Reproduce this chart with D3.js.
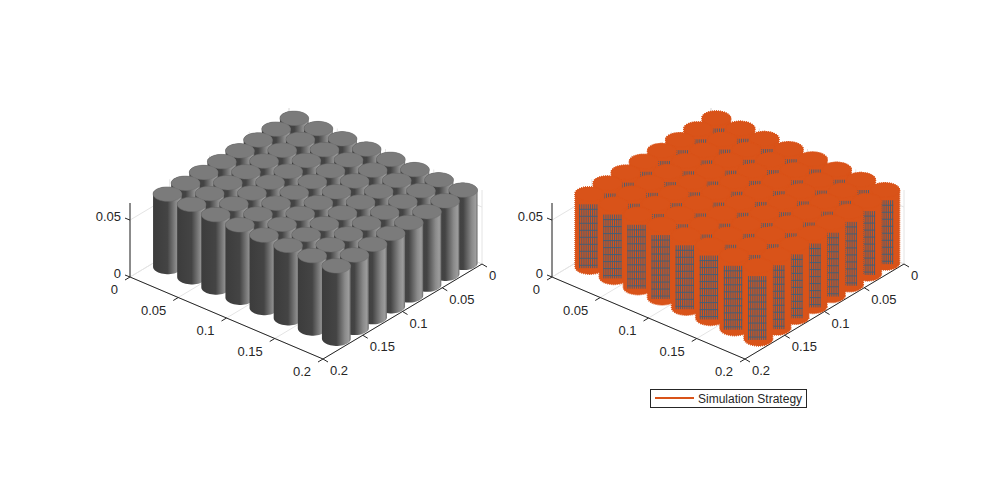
<!DOCTYPE html><html><head><meta charset="utf-8"><script src="https://cdn.jsdelivr.net/npm/d3@7"></script>
<style>body{margin:0;background:#fff}text{font-family:"Liberation Sans",Arial,sans-serif;font-size:13px;fill:#262626}</style></head><body>
<svg id="c" width="1000" height="500"></svg>
<script>
const aCenters=[0.0125,0.0375,0.0625,0.0875,0.1125,0.1375,0.1625,0.1875];
const bCenters=[0.0085,0.0313,0.0541,0.0769,0.0997,0.1225,0.1453,0.1681];
const heights=[0.064,0.064,0.064,0.064,0.064,0.064,0.064,0.064];
const radius=0.0115;
const xyTicks=[0,0.05,0.1,0.15,0.2];
const xyTickLabels=["0","0.05","0.1","0.15","0.2"];
const zTicks=[0,0.05];
const zTickLabels=["0","0.05"];
const legendLabel="Simulation Strategy";
const svg=d3.select("#c");
const defs=svg.append("defs");
const g1=defs.append("linearGradient").attr("id","gr");
[[0,"#3c3c3c"],[0.5,"#444"],[0.8,"#8a8a8a"],[0.93,"#9c9c9c"],[1,"#6a6a6a"]].forEach(s=>g1.append("stop").attr("offset",s[0]).attr("stop-color",s[1]));
const ua=d3.scaleLinear().domain([0,0.2]).range([0,1]);
const zs=d3.scaleLinear().domain([0,0.065]).range([0,74]);
function panel(ox,orange){
  const L=[130+ox,277],A=[193,82],B=[-159,95];
  const O=[L[0]-B[0],L[1]-B[1]];
  const P=(a,b,z)=>[O[0]+ua(a)*A[0]+ua(b)*B[0], O[1]+ua(a)*A[1]+ua(b)*B[1]-zs(z)];
  const g=svg.append("g");
  const grid="#e4e4e4";
  xyTicks.forEach(t=>{
    let p=P(t,0,0),q=P(t,0.2,0);g.append("line").attr("x1",p[0]).attr("y1",p[1]).attr("x2",q[0]).attr("y2",q[1]).attr("stroke",grid);
    p=P(0,t,0);q=P(0.2,t,0);g.append("line").attr("x1",p[0]).attr("y1",p[1]).attr("x2",q[0]).attr("y2",q[1]).attr("stroke",grid);
    p=P(t,0,0);q=P(t,0,0.065);g.append("line").attr("x1",p[0]).attr("y1",p[1]).attr("x2",q[0]).attr("y2",q[1]).attr("stroke",grid);
    p=P(0,t,0);q=P(0,t,0.065);g.append("line").attr("x1",p[0]).attr("y1",p[1]).attr("x2",q[0]).attr("y2",q[1]).attr("stroke",grid);
  });
  zTicks.forEach(t=>{
    let p=P(0,0.2,t),q=P(0,0,t),r=P(0.2,0,t);
    g.append("polyline").attr("points",[p,q,r].join(" ")).attr("fill","none").attr("stroke",grid);
  });
  const ax="#262626";
  let p0=P(0,0.2,0),p1=P(0.2,0.2,0),p2=P(0.2,0,0);
  g.append("polyline").attr("points",[p0,p1,p2].join(" ")).attr("fill","none").attr("stroke",ax);
  let zt=P(0,0.2,0.065);
  g.append("line").attr("x1",p0[0]).attr("y1",p0[1]).attr("x2",zt[0]).attr("y2",zt[1]).attr("stroke",ax);
  xyTicks.forEach((t,i)=>{
    let p=P(t,0.2,0);
    g.append("line").attr("x1",p[0]).attr("y1",p[1]).attr("x2",p[0]-5).attr("y2",p[1]+3).attr("stroke",ax);
    g.append("text").attr("x",p[0]-12).attr("y",p[1]+17).attr("text-anchor","end").text(xyTickLabels[i]);
    p=P(0.2,t,0);
    g.append("line").attr("x1",p[0]).attr("y1",p[1]).attr("x2",p[0]+5).attr("y2",p[1]+3).attr("stroke",ax);
    g.append("text").attr("x",p[0]+7).attr("y",p[1]+16).attr("text-anchor","start").text(xyTickLabels[i]);
  });
  zTicks.forEach((t,i)=>{
    let p=P(0,0.2,t);
    g.append("line").attr("x1",p[0]).attr("y1",p[1]).attr("x2",p[0]-5).attr("y2",p[1]-2).attr("stroke",ax);
    g.append("text").attr("x",p[0]-9).attr("y",p[1]+1).attr("text-anchor","end").text(zTickLabels[i]);
  });
  const cells=[];
  aCenters.forEach((a,i)=>bCenters.forEach((b,j)=>cells.push({a,b,h:heights[i]})));
  cells.sort((u,v)=>(P(u.a,u.b,0)[1])-(P(v.a,v.b,0)[1]));
  const N=48;
  cells.forEach(c=>{
    const bot=[],top=[];
    for(let k=0;k<N;k++){const t=2*Math.PI*k/N;const a=c.a+radius*Math.cos(t),b=c.b+radius*Math.sin(t);bot.push(P(a,b,0));top.push(P(a,b,c.h));}
    const hull=d3.polygonHull(bot.concat(top));
    const xs=hull.map(p=>p[0]);
    const cg=g.append("g");
    if(orange){
      cg.append("polygon").attr("points",hull.join(" ")).attr("fill","#D95319").attr("stroke","#D95319").attr("stroke-width",1.5).attr("stroke-dasharray","1,1");
      const x0=d3.min(xs),x1=d3.max(xs),w=x1-x0;
      const cx=P(c.a,c.b,0)[0]-w*0.04;
      const yb=d3.max(bot,p=>p[1]),yt=d3.max(top,p=>p[1]);
      const mesh=cg.append("g").attr("stroke","#3f5f78").attr("stroke-width",0.9);
      for(let k=-4;k<=4;k++){const x=cx+k*w*0.075;mesh.append("line").attr("x1",x).attr("x2",x).attr("y1",yt+3).attr("y2",yb-6);}
      for(let y=yt+8;y<yb-6;y+=7){mesh.append("line").attr("x1",cx-w*0.32).attr("x2",cx+w*0.32).attr("y1",y).attr("y2",y);}
      cg.append("polygon").attr("points",top.join(" ")).attr("fill","#D95319").attr("stroke","#D95319").attr("stroke-width",1.5).attr("stroke-dasharray","1,1");
    } else {
      cg.append("polygon").attr("points",hull.join(" ")).attr("fill","url(#gr)").attr("stroke","none");
      cg.append("polygon").attr("points",top.join(" ")).attr("fill","#7b7b7b").attr("stroke","#6e6e6e").attr("stroke-width",0.5);
    }
  });
}
panel(0,false);
panel(422,true);
const lg=svg.append("g");
lg.append("rect").attr("x",650.5).attr("y",389.5).attr("width",156).attr("height",18).attr("fill","#fff").attr("stroke","#262626");
lg.append("line").attr("x1",655).attr("x2",694).attr("y1",398).attr("y2",398).attr("stroke","#D95319").attr("stroke-width",2);
lg.append("text").attr("x",698).attr("y",403).style("font-size","12px").text(legendLabel);
</script></body></html>
